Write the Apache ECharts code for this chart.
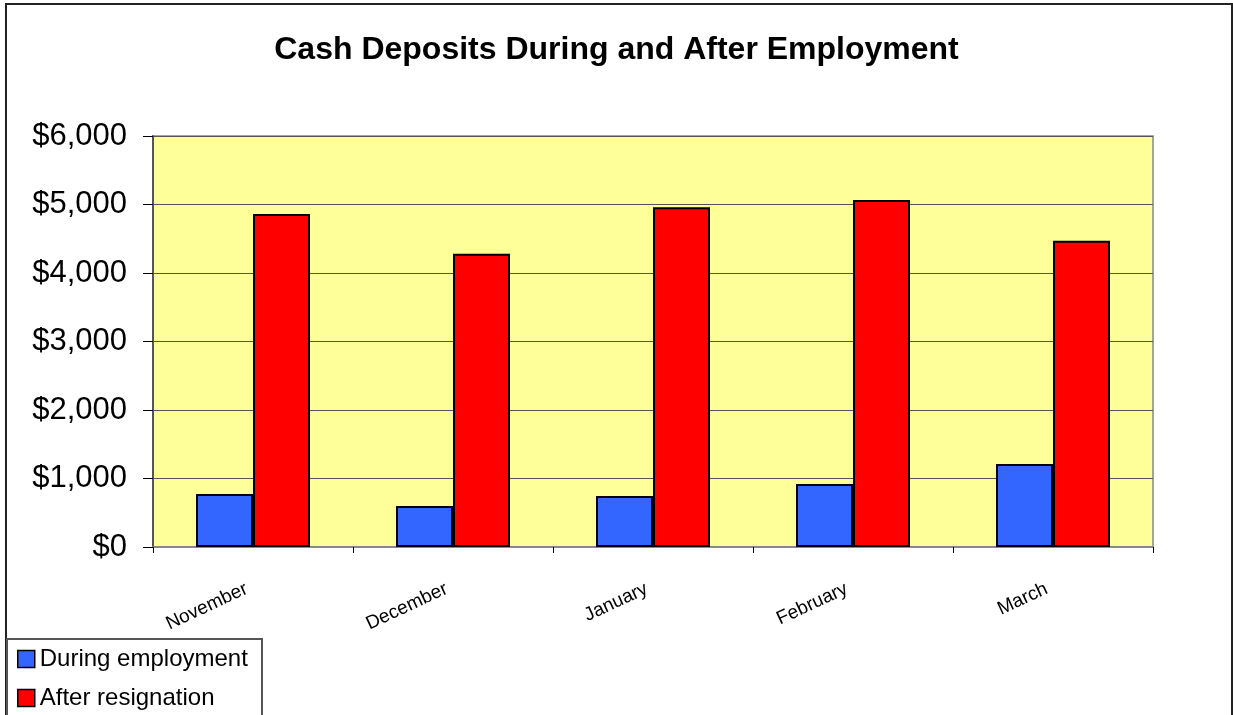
<!DOCTYPE html>
<html>
<head>
<meta charset="utf-8">
<script src="https://cdn.jsdelivr.net/npm/echarts@6/dist/echarts.min.js"></script>
<style>
html,body{margin:0;padding:0;background:#fff;}
#c{width:1233px;height:715px;}
</style>
</head>
<body>
<div id="c"></div>
<script>
const categories = ['November', 'December', 'January', 'February', 'March'];
const duringEmployment = [775, 600, 745, 920, 1210];
const afterResignation = [4860, 4280, 4960, 5065, 4470];
const seriesNames = ['During employment', 'After resignation'];
const titleText = 'Cash Deposits During and After Employment';

const FONT = 'Liberation Sans, Arial, sans-serif';
const chart = echarts.init(document.getElementById('c'), null, {renderer: 'canvas'});
chart.setOption({
  animation: false,
  backgroundColor: '#ffffff',
  textStyle: {fontFamily: FONT},
  graphic: [
    {
      type: 'rect',
      shape: {x: 6, y: 4, width: 1226, height: 760},
      style: {fill: 'none', stroke: '#222', lineWidth: 2},
      silent: true,
      z: -1
    },
    {
      type: 'rect',
      shape: {x: 7, y: 639, width: 255, height: 120},
      style: {fill: '#fff', stroke: '#555', lineWidth: 2},
      silent: true,
      z: 0
    }
  ],
  title: {
    text: titleText,
    left: 'center',
    top: 29,
    textStyle: {fontSize: 32, fontWeight: 'bold', color: '#000', fontFamily: FONT}
  },
  legend: {
    orient: 'vertical',
    left: 7,
    top: 639,
    padding: [8, 0, 0, 10],
    itemGap: 15,
    itemWidth: 17,
    itemHeight: 17,
    icon: 'rect',
    z: 5,
    textStyle: {fontSize: 24, lineHeight: 24, color: '#000', fontFamily: FONT, padding: [0, 0, 0, 0]},
    itemStyle: {borderColor: '#000', borderWidth: 1.5},
    data: seriesNames
  },
  grid: {
    left: 153, right: 80, top: 136, bottom: 168,
    show: true,
    backgroundColor: '#FFFF99',
    borderColor: '#888',
    borderWidth: 1.5
  },
  xAxis: {
    type: 'category',
    data: categories,
    axisLine: {lineStyle: {color: '#888', width: 2}},
    axisTick: {show: true, length: 6, lineStyle: {color: '#000'}},
    axisLabel: {rotate: 25, fontSize: 19, color: '#000', margin: 38, padding: [0, 7, 0, 0], fontFamily: FONT}
  },
  yAxis: {
    type: 'value',
    min: 0, max: 6000, interval: 1000,
    axisLine: {show: true, lineStyle: {color: '#555', width: 2}},
    axisTick: {show: true, length: 10, lineStyle: {color: '#000'}},
    splitLine: {lineStyle: {color: '#555', width: 1}},
    axisLabel: {
      fontSize: 31, color: '#000', margin: 26,
      fontFamily: FONT,
      formatter: v => '$' + v.toLocaleString('en-US')
    }
  },
  series: [
    {
      name: seriesNames[0], type: 'bar', data: duringEmployment,
      barGap: '0%', barCategoryGap: '43%',
      itemStyle: {color: '#3366FF', borderColor: '#000', borderWidth: 2}
    },
    {
      name: seriesNames[1], type: 'bar', data: afterResignation,
      barGap: '0%', barCategoryGap: '43%',
      itemStyle: {color: '#FF0000', borderColor: '#000', borderWidth: 2}
    }
  ]
});
</script>
</body>
</html>
